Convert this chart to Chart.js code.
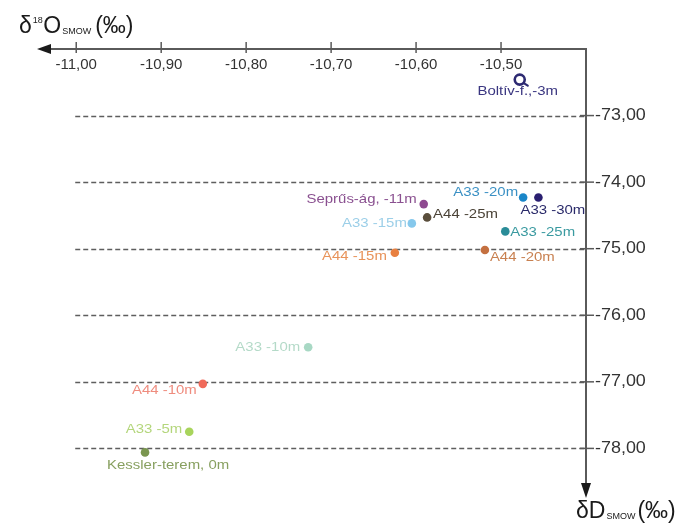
<!DOCTYPE html>
<html>
<head>
<meta charset="utf-8">
<script src="https://cdn.jsdelivr.net/npm/chart.js@4/dist/chart.umd.min.js"></script>
<style>
  html, body { margin: 0; padding: 0; background: #ffffff; }
  #wrap { width: 677px; height: 525px; }
</style>
</head>
<body>
<div id="wrap"><canvas id="c" width="677" height="525"></canvas></div>
<script>
// Sampling sites
const sites = [
  'Boltív-f.,-3m', 'A33 -20m', 'A33 -30m', 'Seprűs-ág, -11m', 'A44 -25m',
  'A33 -15m', 'A33 -25m', 'A44 -15m', 'A44 -20m', 'A33 -10m',
  'A44 -10m', 'A33 -5m', 'Kessler-terem, 0m'
];
// δ18O (SMOW, ‰)
const d18O = [
  -10.478, -10.474, -10.456, -10.591, -10.587,
  -10.605, -10.495, -10.625, -10.519, -10.727,
  -10.851, -10.867, -10.919
];
// δD (SMOW, ‰)
const dD = [
  -72.46, -74.23, -74.23, -74.33, -74.53,
  -74.62, -74.74, -75.06, -75.02, -76.48,
  -77.03, -77.75, -78.06
];
// Axis ticks
const xTicks = [-11.00, -10.90, -10.80, -10.70, -10.60, -10.50];
const yTicks = [-73, -74, -75, -76, -77, -78];

// Marker and label colours
const markerColors = [
  '#2d2a72', '#1a86c8', '#2a1f70', '#8e4a90', '#5a4e3c',
  '#86c8ec', '#2a8c98', '#e88040', '#c47040', '#a8d8c4',
  '#f06a5a', '#a8d45c', '#7a9650'
];
const labelColors = [
  '#3a3680', '#3a90c4', '#2a2a6a', '#8a5090', '#4a4236',
  '#9ccfe8', '#3a9aa0', '#e8935a', '#c88050', '#b4dac8',
  '#ef8c7e', '#b4d67c', '#88a060'
];
// Label placement: [align, dx, dy]
const labelPlace = [
  ['center', -2, 12], ['right', -5, -5], ['left', -18, 13], ['right', -7, -5], ['left', 6, -3],
  ['right', -5, 0], ['left', 5, 1], ['right', -8, 4], ['left', 5, 7], ['right', -8, 0],
  ['right', -6, 7], ['right', -7, -2], ['left', -38, 13]
];

const fmt = v => v.toFixed(2).replace('.', ',');

function stretchedText(ctx, text, x, y, align, sx) {
  ctx.save();
  ctx.translate(x, y);
  ctx.scale(sx, 1);
  ctx.textAlign = align;
  ctx.fillText(text, 0, 0);
  ctx.restore();
}

const axesPlugin = {
  id: 'crossAxes',
  beforeDatasetsDraw(chart) {
    const { ctx, chartArea: a, scales: { x, y } } = chart;
    ctx.save();
    // dashed reference lines
    ctx.strokeStyle = '#5e5e5e';
    ctx.lineWidth = 1.4;
    ctx.setLineDash([5, 3]);
    const gx0 = x.getPixelForValue(-11.0) - 1;
    yTicks.forEach(v => {
      const py = Math.round(y.getPixelForValue(v)) + 0.5;
      ctx.beginPath();
      ctx.moveTo(gx0, py);
      ctx.lineTo(a.right, py);
      ctx.stroke();
    });
    ctx.setLineDash([]);

    // top (δ18O) axis
    ctx.strokeStyle = '#5a5a5a';
    ctx.lineWidth = 2;
    ctx.beginPath();
    ctx.moveTo(a.left + 8, a.top);
    ctx.lineTo(a.right, a.top);
    ctx.stroke();
    ctx.lineWidth = 1.5;
    xTicks.forEach(v => {
      const px = x.getPixelForValue(v);
      ctx.beginPath();
      ctx.moveTo(px, a.top - 7);
      ctx.lineTo(px, a.top + 4);
      ctx.stroke();
    });
    ctx.fillStyle = '#1a1a1a';
    ctx.beginPath();
    ctx.moveTo(a.left - 1, a.top);
    ctx.lineTo(a.left + 13, a.top - 5);
    ctx.lineTo(a.left + 13, a.top + 5);
    ctx.closePath();
    ctx.fill();

    ctx.fillStyle = '#333333';
    ctx.font = '15px "Liberation Sans", Arial, sans-serif';
    ctx.textBaseline = 'middle';
    xTicks.forEach(v => {
      stretchedText(ctx, fmt(v), x.getPixelForValue(v), a.top + 16, 'center', 1.0);
    });

    // right (δD) axis
    ctx.strokeStyle = '#5a5a5a';
    ctx.lineWidth = 2;
    ctx.beginPath();
    ctx.moveTo(a.right, a.top - 1);
    ctx.lineTo(a.right, a.bottom - 8);
    ctx.stroke();
    ctx.lineWidth = 1.5;
    yTicks.forEach(v => {
      const py = y.getPixelForValue(v);
      ctx.beginPath();
      ctx.moveTo(a.right - 6, py);
      ctx.lineTo(a.right + 8, py);
      ctx.stroke();
    });
    ctx.fillStyle = '#1a1a1a';
    ctx.beginPath();
    ctx.moveTo(a.right, a.bottom + 1);
    ctx.lineTo(a.right - 5, a.bottom - 14);
    ctx.lineTo(a.right + 5, a.bottom - 14);
    ctx.closePath();
    ctx.fill();

    ctx.fillStyle = '#333333';
    ctx.font = '16px "Liberation Sans", Arial, sans-serif';
    yTicks.forEach(v => {
      stretchedText(ctx, fmt(v), a.right + 9, y.getPixelForValue(v), 'left', 1.12);
    });

    // axis titles
    ctx.fillStyle = '#1a1a1a';
    ctx.textBaseline = 'alphabetic';
    ctx.textAlign = 'left';
    const big = '23px "Liberation Sans", Arial, sans-serif';
    const sup = '9px "Liberation Sans", Arial, sans-serif';
    // δ18O SMOW (‰)
    let tx = 19, ty = 33;
    ctx.font = big; ctx.fillText('δ', tx, ty); tx += ctx.measureText('δ').width + 1;
    ctx.font = sup; ctx.fillText('18', tx, ty - 10); tx += ctx.measureText('18').width + 0.5;
    ctx.font = big; ctx.fillText('O', tx, ty); tx += ctx.measureText('O').width + 1;
    ctx.font = sup; ctx.fillText('SMOW', tx, ty + 1); tx += ctx.measureText('SMOW').width + 4;
    ctx.font = big; ctx.fillText('(‰)', tx, ty);
    // δD SMOW (‰)
    tx = 576; ty = 518;
    ctx.font = big; ctx.fillText('δD', tx, ty); tx += ctx.measureText('δD').width + 1;
    ctx.font = sup; ctx.fillText('SMOW', tx, ty + 1); tx += ctx.measureText('SMOW').width + 2;
    ctx.font = big; ctx.fillText('(‰)', tx, ty);
    ctx.restore();
  },
  afterDatasetsDraw(chart) {
    const { ctx } = chart;
    const meta = chart.getDatasetMeta(0);
    ctx.save();
    // little tail on the open (ring) marker
    const ring = meta.data[0];
    ctx.strokeStyle = markerColors[0];
    ctx.lineWidth = 2.2;
    ctx.lineCap = 'round';
    ctx.beginPath();
    ctx.moveTo(ring.x + 4, ring.y + 3.5);
    ctx.lineTo(ring.x + 8, ring.y + 6);
    ctx.stroke();

    ctx.font = '13px "Liberation Sans", Arial, sans-serif';
    ctx.textBaseline = 'middle';
    meta.data.forEach((pt, i) => {
      const [align, dx, dy] = labelPlace[i];
      ctx.fillStyle = labelColors[i];
      stretchedText(ctx, sites[i], pt.x + dx, pt.y + dy, align, 1.15);
    });
    ctx.restore();
  }
};

new Chart(document.getElementById('c'), {
  type: 'scatter',
  data: {
    datasets: [{
      label: 'δ18O – δD',
      data: d18O.map((v, i) => ({ x: v, y: dD[i] })),
      pointRadius: sites.map((s, i) => i === 0 ? 5 : 4.3),
      pointBackgroundColor: markerColors.map((c, i) => i === 0 ? '#ffffff' : c),
      pointBorderColor: markerColors,
      pointBorderWidth: sites.map((s, i) => i === 0 ? 2.6 : 0),
      showLine: false
    }]
  },
  options: {
    responsive: false,
    animation: false,
    events: [],
    layout: { padding: { left: 38, right: 91, top: 49, bottom: 28 } },
    plugins: { legend: { display: false }, tooltip: { enabled: false } },
    scales: {
      x: { type: 'linear', min: -11.045, max: -10.40, display: false },
      y: { type: 'linear', min: -78.73, max: -72.0, display: false }
    }
  },
  plugins: [axesPlugin]
});
</script>
</body>
</html>
